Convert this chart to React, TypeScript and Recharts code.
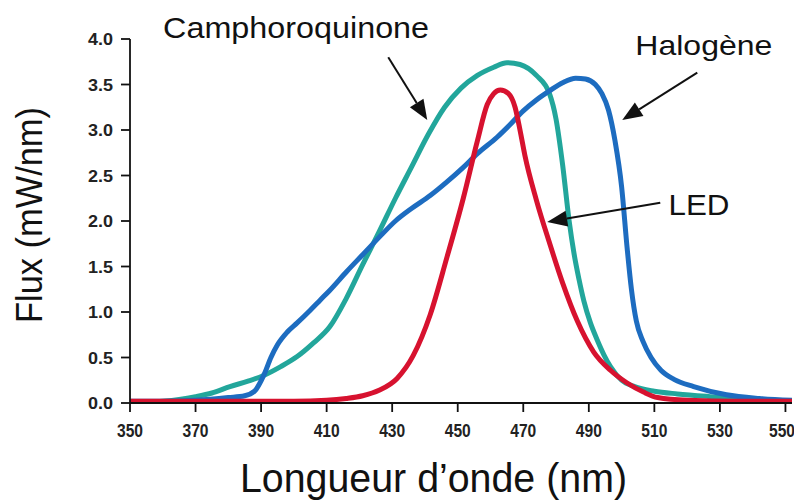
import React from 'react';
import { LineChart, Line, XAxis, YAxis, ReferenceLine, ReferenceDot } from 'recharts';

// ---- Data ----
const xTicks = [350, 370, 390, 410, 430, 450, 470, 490, 510, 530, 550];
const yTicks = [0, 0.5, 1, 1.5, 2, 2.5, 3, 3.5, 4];

const halogenNm = [350, 360, 370, 380, 385, 388, 391, 393, 395, 398, 401, 405, 408, 411, 416, 421, 426, 431, 436, 441.6, 446.7, 451.7, 456, 462, 466, 470, 474, 478, 482, 486, 489, 492, 494, 496, 498, 500, 501.7, 503, 504.5, 506.5, 509, 512, 516, 522, 532, 542, 552];
const halogenFlux = [0.02, 0.02, 0.03, 0.06, 0.08, 0.13, 0.32, 0.5, 0.64, 0.78, 0.88, 1.02, 1.13, 1.24, 1.44, 1.63, 1.82, 2.0, 2.14, 2.28, 2.43, 2.59, 2.74, 2.92, 3.06, 3.21, 3.33, 3.43, 3.52, 3.57, 3.56, 3.5, 3.4, 3.22, 2.88, 2.38, 1.7, 1.25, 0.9, 0.68, 0.5, 0.36, 0.26, 0.18, 0.09, 0.05, 0.03];

const camphorNm = [350, 360, 365, 370, 375, 380.5, 386, 390.6, 396, 401, 406, 411, 416, 421, 426, 431, 436, 441, 446, 451, 456, 461, 465, 469, 474, 478, 480, 482, 484, 485.5, 487, 488.5, 490.5, 492.6, 494.6, 496.6, 500, 504, 510, 517, 527, 540, 552];
const camphorFlux = [0.0, 0.02, 0.04, 0.07, 0.11, 0.18, 0.24, 0.3, 0.4, 0.51, 0.66, 0.84, 1.15, 1.52, 1.88, 2.25, 2.6, 2.95, 3.25, 3.46, 3.6, 3.69, 3.74, 3.72, 3.6, 3.4, 3.12, 2.62, 2.0, 1.64, 1.36, 1.12, 0.88, 0.69, 0.53, 0.4, 0.25, 0.18, 0.13, 0.1, 0.07, 0.04, 0.02];

const ledNm = [350, 380, 400, 410, 416, 421, 426, 431.5, 436.4, 441.6, 446.7, 451.7, 456, 459, 461, 463, 465.5, 467.5, 469, 470.5, 474, 478, 482, 486.5, 491.5, 496.6, 501.7, 506.7, 511, 520, 535, 552];
const ledFlux = [0.02, 0.02, 0.02, 0.03, 0.05, 0.08, 0.14, 0.27, 0.52, 0.97, 1.6, 2.25, 2.88, 3.28, 3.4, 3.44, 3.4, 3.25, 3.0, 2.72, 2.23, 1.76, 1.32, 0.9, 0.56, 0.36, 0.22, 0.12, 0.06, 0.03, 0.02, 0.02];

const labelNames = ['Camphoroquinone', 'Halogène', 'LED'];

// annotations in data coordinates (nm, flux)
const labelAnchors = [
  { x: 360.1, y: 4.01, len: 266, size: 29 },
  { x: 504.2, y: 3.82, len: 137, size: 28 },
  { x: 514.3, y: 2.07, len: 61, size: 30 },
];
const arrowSegments = [
  [{ x: 428.8, y: 3.8 }, { x: 440.7, y: 3.11 }],
  [{ x: 523.1, y: 3.63 }, { x: 500.2, y: 3.11 }],
  [{ x: 511.8, y: 2.2 }, { x: 477.3, y: 1.99 }],
];

const build = (nm: number[], flux: number[]) => nm.map((v, i) => ({ nm: v, flux: flux[i] }));
const halogenData = build(halogenNm, halogenFlux);
const camphorData = build(camphorNm, camphorFlux);
const ledData = build(ledNm, ledFlux);

const FONT = '"Liberation Sans", Arial, sans-serif';

const YTick = (props: any) => {
  const { x, y, payload } = props;
  return (
    <text x={x} y={y} dy={6} textAnchor="end" fontFamily={FONT} fontWeight={700} fontSize={17}
      textLength={25} lengthAdjust="spacingAndGlyphs" fill="#222">
      {Number(payload.value).toFixed(1)}
    </text>
  );
};

const XTick = (props: any) => {
  const { x, y, payload } = props;
  return (
    <text x={x} y={y} dy={15} textAnchor="middle" fontFamily={FONT} fontWeight={700} fontSize={19}
      textLength={26} lengthAdjust="spacingAndGlyphs" fill="#222">
      {payload.value}
    </text>
  );
};

const YLabel = (props: any) => {
  const vb = props.viewBox || { x: 0, y: 39, width: 130, height: 364 };
  const cx = vb.x + 42;
  const cy = vb.y + vb.height / 2 - 6;
  return (
    <text x={cx} y={cy} textAnchor="middle" transform={`rotate(-90, ${cx}, ${cy})`} fontFamily={FONT}
      fontSize={36} textLength={216} lengthAdjust="spacingAndGlyphs" fill="#111">
      Flux (mW/nm)
    </text>
  );
};

const XLabel = (props: any) => {
  const vb = props.viewBox || { x: 130, y: 403, width: 662, height: 98 };
  return (
    <text x={vb.x + 110} y={vb.y + 89} textAnchor="start" fontFamily={FONT} fontSize={40}
      textLength={387} lengthAdjust="spacingAndGlyphs" fill="#111">
      Longueur d’onde (nm)
    </text>
  );
};

const ArrowShape = (props: any) => {
  const { x1, y1, x2, y2 } = props;
  const ang = Math.atan2(y2 - y1, x2 - x1);
  const head = 20;
  const half = 8;
  const bx = x2 - head * Math.cos(ang);
  const by = y2 - head * Math.sin(ang);
  const px = -Math.sin(ang) * half;
  const py = Math.cos(ang) * half;
  return (
    <g>
      <line x1={x1} y1={y1} x2={bx} y2={by} stroke="#111" strokeWidth={2} />
      <polygon points={`${x2},${y2} ${bx + px},${by + py} ${bx - px},${by - py}`} fill="#111" />
    </g>
  );
};

const makeText = (name: string, len: number, size: number) => (props: any) => (
  <text x={props.cx} y={props.cy} fontFamily={FONT} fontSize={size} textLength={len}
    lengthAdjust="spacingAndGlyphs" fill="#111">
    {name}
  </text>
);

export default function App() {
  return (
    <div style={{ position: 'absolute', left: 0, top: 0, background: '#fff' }}>
      <LineChart width={794} height={501} margin={{ top: 39, right: 2, bottom: 0, left: 0 }}>
        <XAxis dataKey="nm" type="number" domain={[350, 552]} ticks={xTicks} height={98}
          allowDataOverflow tickSize={9} tickMargin={10}
          axisLine={{ stroke: '#111', strokeWidth: 1.8 }} tickLine={{ stroke: '#111', strokeWidth: 1.8 }}
          tick={<XTick />} label={{ content: <XLabel /> }} />
        <YAxis type="number" domain={[0, 4]} ticks={yTicks} width={130} tickSize={9} tickMargin={8}
          allowDataOverflow
          axisLine={{ stroke: '#111', strokeWidth: 1.8 }} tickLine={{ stroke: '#111', strokeWidth: 1.8 }}
          tick={<YTick />} label={{ content: <YLabel /> }} />
        <Line data={camphorData} dataKey="flux" type="monotone" stroke="#22a69b" strokeWidth={5}
          dot={false} activeDot={false} isAnimationActive={false} />
        <Line data={halogenData} dataKey="flux" type="monotone" stroke="#1d6cc0" strokeWidth={5}
          dot={false} activeDot={false} isAnimationActive={false} />
        <Line data={ledData} dataKey="flux" type="monotone" stroke="#d7122f" strokeWidth={5}
          dot={false} activeDot={false} isAnimationActive={false} />
        {arrowSegments.map((seg, i) => (
          <ReferenceLine key={'a' + i} segment={seg} ifOverflow="visible" shape={ArrowShape} />
        ))}
        {labelAnchors.map((a, i) => (
          <ReferenceDot key={'t' + i} x={a.x} y={a.y} r={0} ifOverflow="visible"
            shape={makeText(labelNames[i], a.len, a.size)} />
        ))}
      </LineChart>
    </div>
  );
}
